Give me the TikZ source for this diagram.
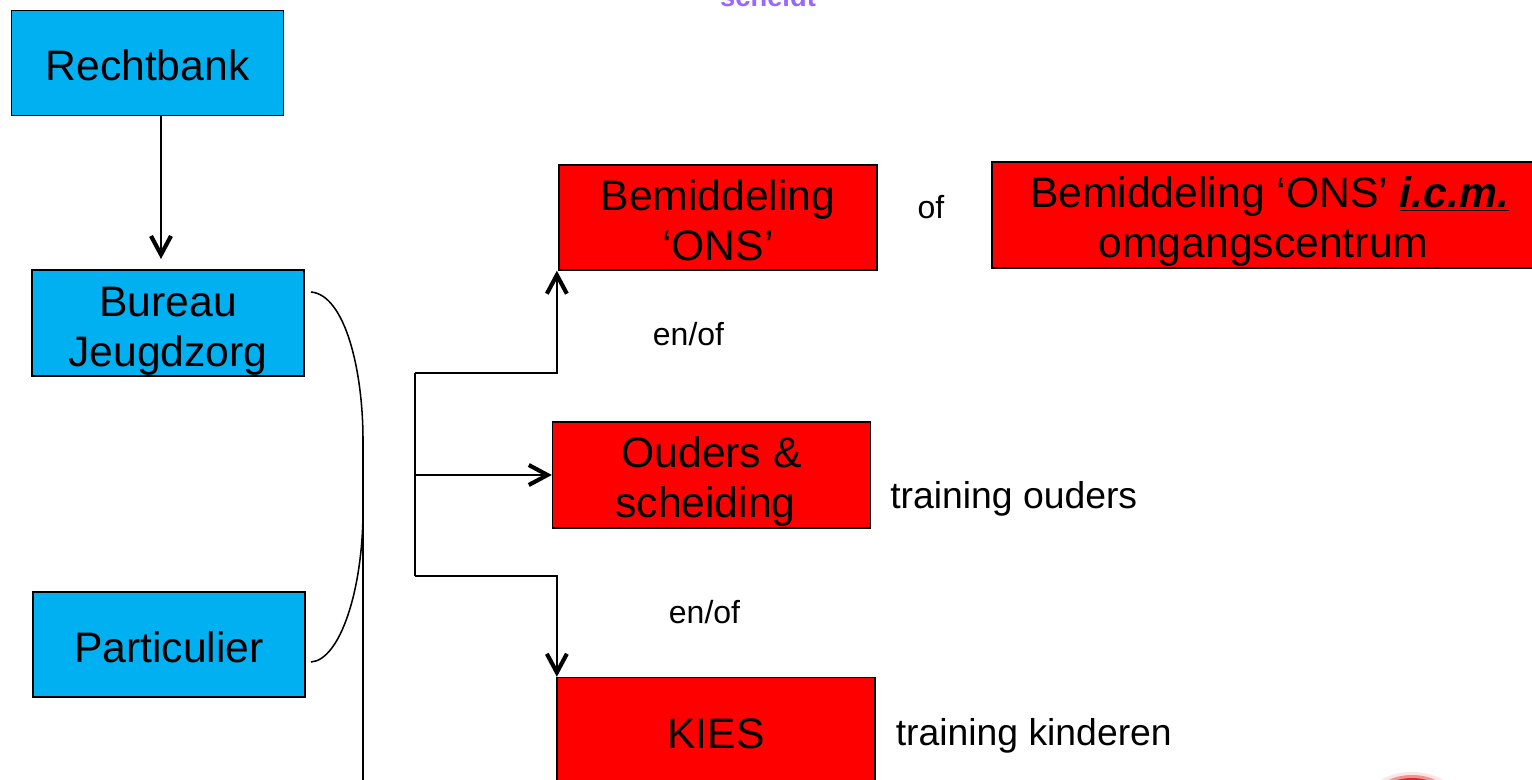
\documentclass[tikz,border=0pt]{standalone}
\usepackage{fontspec}
\setmainfont{Liberation Sans}
\usetikzlibrary{arrows.meta}
\definecolor{boxblue}{HTML}{00B0F0}
\definecolor{boxred}{HTML}{FF0000}
\definecolor{notepurple}{HTML}{9966FF}
\definecolor{blobred}{HTML}{E02828}
\newcommand{\toppad}[1]{\rule{0pt}{#1pt}}
\tikzset{
	bluebox/.style={draw=black, line width=1pt, fill=boxblue, align=center, font=\fontsize{32}{37.5}\selectfont, inner sep=0pt},
	redbox/.style={bluebox, fill=boxred},
	plainlabel/.style={inner sep=0pt, font=\fontsize{28}{33}\selectfont},
	smalllabel/.style={inner sep=0pt, font=\fontsize{24}{28}\selectfont},
	openarrow/.style={line width=1.15pt, -{Straight Barb[length=14pt, width=15pt, line width=3.1pt]}},
	plainline/.style={line width=1.15pt}
}
\begin{document}
\begin{tikzpicture}[x=0.75pt,y=-0.75pt]

	%Background
	\useasboundingbox (0,0) rectangle (1532,780);
	\clip (0,0) rectangle (1532,780);
	\fill[white] (0,0) rectangle (1532,780);

	%Clipped note and blob
	\node[inner sep=0pt, anchor=base, text=notepurple, font=\fontsize{20.5}{24}\selectfont\bfseries] (note) at (768,6.5) {scheidt};
	\fill[blobred!12] (1412,799) ellipse (44 and 27);
	\fill[blobred!50] (1412,799) ellipse (38 and 24);
	\fill[blobred] (1412,799) ellipse (34 and 21);

	%Left column
	\node[bluebox, minimum width=204pt, minimum height=79pt] (rechtbank) at (147.5,63) {\toppad{26.4}Rechtbank};
	\node[bluebox, minimum width=204pt, minimum height=79.5pt] (bureau) at (168,323) {\toppad{35}Bureau\\Jeugdzorg};
	\node[bluebox, minimum width=204pt, minimum height=78.75pt] (particulier) at (169,644.5) {\toppad{28}Particulier};

	%Right column
	\node[redbox, minimum width=238.5pt, minimum height=78.75pt] (bemiddeling) at (718,217.5) {\toppad{27.4}Bemiddeling\\‘ONS’};
	\node[redbox, minimum width=407.5pt, minimum height=79.5pt] (centrum) at (1263.5,215) {\toppad{33.4}\hspace*{9pt}Bemiddeling ‘ONS’ \underline{\textbf{\textit{i.c.m.}}}\\omgangscentrum};
	\node[redbox, minimum width=238.5pt, minimum height=79.5pt] (ouders) at (711.5,475) {\toppad{33.5}Ouders \&\\scheiding\hspace*{9pt}};
	\node[redbox, minimum width=238.5pt, minimum height=84pt] (kies) at (716,733.5) {KIES};

	%Labels
	\node[smalllabel] (ofnode) at (931,207) {of};
	\node[smalllabel] (enofa) at (688.5,334) {en/of};
	\node[smalllabel] (enofb) at (704.5,612) {en/of};
	\node[plainlabel, anchor=west] (trainouders) at (890,499) {training ouders};
	\node[plainlabel, anchor=west] (trainkinderen) at (895.5,736) {training kinderen};

	%Free ends
	\coordinate (bureautip) at (161,259);
	\coordinate (bureauend) at (311,292);
	\coordinate (particulierend) at (311,662);
	\coordinate (braceupper) at (363,440);
	\coordinate (bracelower) at (363,510);
	\coordinate (bracefoot) at (363,780);
	\coordinate (splittop) at (415,373);
	\coordinate (splitmid) at (415,475);
	\coordinate (splitbot) at (415,576);

	%Connectors
	\draw[openarrow] (rechtbank.south -| bureautip) -- (bureautip);
	\draw[plainline] (bureauend) .. controls (345,295) and (363,370) .. (braceupper) -- (bracefoot);
	\draw[plainline] (particulierend) .. controls (340,660) and (363,590) .. (bracelower);
	\draw[plainline] (splittop) -- (splitbot);
	\draw[openarrow] (splittop) -| ([xshift=-1.1pt]bemiddeling.south west);
	\draw[openarrow] (splitmid) -- (ouders.west);
	\draw[openarrow] (splitbot) -| ([xshift=0.4pt]kies.north west);

\end{tikzpicture}
\end{document}
